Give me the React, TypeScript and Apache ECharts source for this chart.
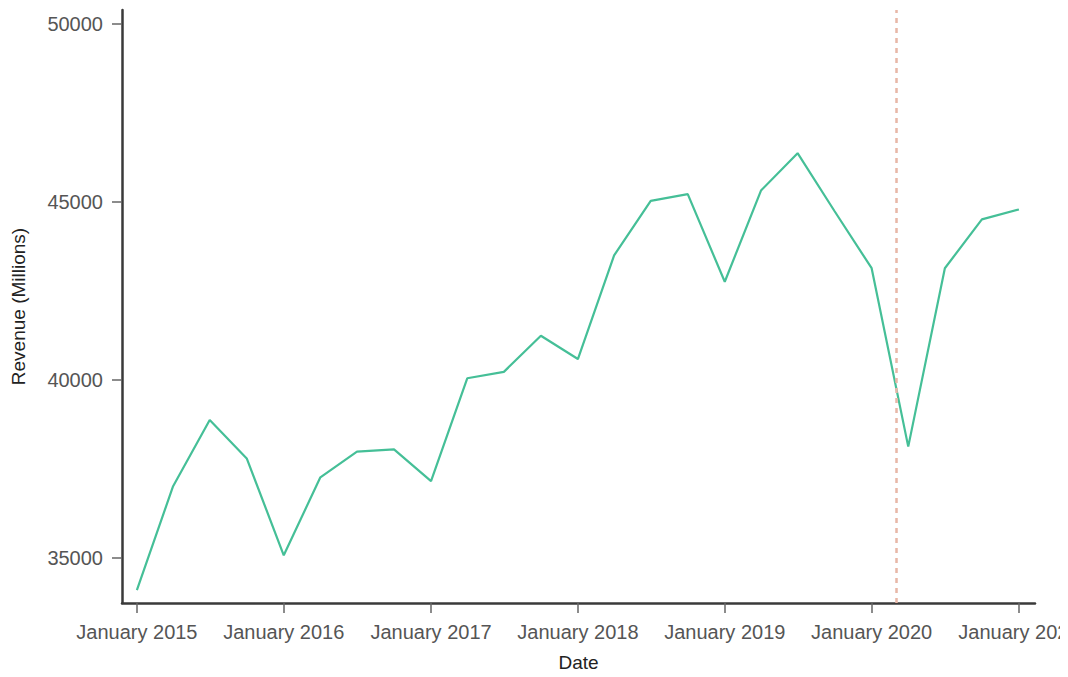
import React, { useEffect, useRef } from "react";
import * as echarts from "echarts";

const quarters: string[] = [
  "2015-01-01", "2015-04-01", "2015-07-01", "2015-10-01",
  "2016-01-01", "2016-04-01", "2016-07-01", "2016-10-01",
  "2017-01-01", "2017-04-01", "2017-07-01", "2017-10-01",
  "2018-01-01", "2018-04-01", "2018-07-01", "2018-10-01",
  "2019-01-01", "2019-04-01", "2019-07-01", "2019-10-01",
  "2020-01-01", "2020-04-01", "2020-07-01", "2020-10-01",
  "2021-01-01",
];
const revenue: number[] = [
  34100, 37020, 38880, 37800,
  35080, 37270, 37990, 38055,
  37160, 40050, 40230, 41245,
  40590, 43500, 45030, 45220,
  42760, 45320, 46370, 44740,
  43140, 38130, 43140, 44510,
  44790,
];
const yTicks: number[] = [35000, 40000, 45000, 50000];
const xTickYears: number[] = [2015, 2016, 2017, 2018, 2019, 2020, 2021];
const eventDate = "2020-03-01";

const toTs = (s: string) => {
  const [y, m, d] = s.split("-").map(Number);
  return Date.UTC(y, m - 1, d);
};
const DAY = 86400000;

export default function App() {
  const ref = useRef<HTMLDivElement>(null);
  useEffect(() => {
    if (!ref.current) return;
    const chart = echarts.init(ref.current, null, { renderer: "svg" });
    const font = "'Liberation Sans', Arial, sans-serif";
    const xTicks = xTickYears.map((y) => Date.UTC(y, 0, 1));
    chart.setOption({
      animation: false,
      backgroundColor: "#ffffff",
      grid: {
        left: 122,
        right: 25,
        top: 10,
        bottom: 74,
        containLabel: false,
        outerBoundsMode: "none",
      },
      xAxis: {
        type: "value",
        min: Date.UTC(2015, 0, 1) - 37 * DAY,
        max: Date.UTC(2021, 0, 1) + 40 * DAY,
        name: "Date",
        nameLocation: "middle",
        nameGap: 50,
        nameTextStyle: { color: "#222", fontSize: 19, fontFamily: font },
        axisLine: { show: true, lineStyle: { color: "#3a3a3a", width: 2.5 } },
        axisTick: {
          show: true,
          length: 10,
          customValues: xTicks,
          lineStyle: { color: "#666", width: 1.5 },
        },
        axisLabel: {
          customValues: xTicks,
          margin: 19,
          color: "#555",
          fontSize: 20,
          fontFamily: font,
          hideOverlap: false,
          formatter: (v: number) => "January " + new Date(v).getUTCFullYear(),
        },
        splitLine: { show: false },
      },
      yAxis: {
        type: "value",
        min: 33740,
        max: 50390,
        name: "Revenue (Millions)",
        nameLocation: "middle",
        nameGap: 94,
        nameTextStyle: { color: "#222", fontSize: 19, fontFamily: font },
        axisLine: { show: true, lineStyle: { color: "#3a3a3a", width: 2.5 } },
        axisTick: {
          show: true,
          length: 10,
          customValues: yTicks,
          lineStyle: { color: "#666", width: 1.5 },
        },
        axisLabel: {
          customValues: yTicks,
          margin: 19,
          color: "#555",
          fontSize: 20,
          fontFamily: font,
          formatter: (v: number) => String(v),
        },
        splitLine: { show: false },
      },
      series: [
        {
          type: "line",
          data: quarters.map((q, i) => [toTs(q), revenue[i]]),
          showSymbol: false,
          symbol: "none",
          lineStyle: { color: "#45bf97", width: 2.2 },
          itemStyle: { color: "#45bf97" },
          markLine: {
            silent: true,
            symbol: ["none", "none"],
            label: { show: false },
            lineStyle: { color: "#e8b7a7", width: 2.5, type: [5, 5] },
            data: [{ xAxis: toTs(eventDate) }],
          },
        },
      ],
    });
    return () => chart.dispose();
  }, []);
  return (
    <div
      ref={ref}
      style={{
        position: "absolute",
        left: 0,
        top: 0,
        width: 1060,
        height: 677,
        overflow: "hidden",
        background: "#fff",
      }}
    />
  );
}
